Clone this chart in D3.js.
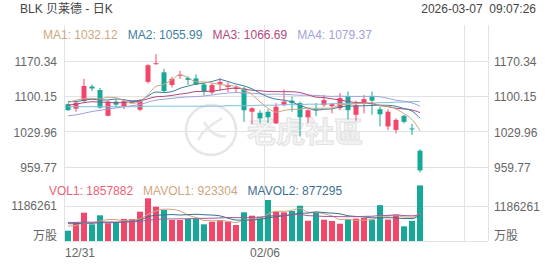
<!DOCTYPE html>
<html><head><meta charset="utf-8">
<script src="https://cdn.jsdelivr.net/npm/d3@7"></script>
<style>
body{margin:0;background:#fff}
svg{display:block;font-family:"Liberation Sans","Noto Sans CJK SC",Arial,sans-serif}
</style>
</head><body><svg id="c" width="552" height="265"></svg>
<script>
// ---------- data ----------
const dates = ["12/31","01/02","01/05","01/06","01/07","01/08","01/09","01/12","01/13","01/14","01/15","01/16","01/20","01/21","01/22","01/23","01/26","01/27","01/28","01/29","01/30","02/02","02/03","02/04","02/05","02/06","02/09","02/10","02/11","02/12","02/13","02/17","02/18","02/19","02/20","02/23","02/24","02/25","02/26","02/27","03/02","03/03","03/04","03/05","03/06"];
const opens  = [1084,1075,1090,1119,1112,1061,1089,1080,1089,1073,1128,1163,1147,1122,1140,1136,1135,1123,1107,1124,1118,1114,1115,1069,1067,1069,1046,1082,1091,1086,1058,1075,1082,1080,1076,1100,1063,1086,1099,1074,1040,1033,1061,1036,992];
const highs  = [1086,1089,1134,1123,1116,1091,1094,1092,1090,1094,1163,1183,1154,1138,1150,1139,1143,1126,1125,1136,1127,1121,1118,1078,1072,1074,1086,1113,1099,1089,1074,1086,1102,1086,1106,1109,1091,1102,1109,1079,1074,1056,1063,1045,995];
const lows   = [1071,1069,1088,1110,1075,1060,1077,1074,1088,1070,1125,1162,1108,1117,1134,1122,1122,1101,1103,1110,1108,1108,1049,1045,1046,1047,1045,1080,1069,1020,1047,1060,1079,1066,1072,1054,1051,1066,1063,1040,1033,1026,1046,1023,949];
const closes = [1072,1087,1120,1115,1077,1089,1083,1090,1089,1091,1161,1165,1110,1134,1142,1132,1123,1109,1122,1128,1122,1117,1072,1076,1056,1058,1079,1089,1086,1058,1072,1073,1092,1084,1096,1072,1082,1094,1091,1064,1069,1053,1049,1034,953];
const volumes = [344000,625000,946000,558000,859000,591000,625000,735000,735000,979000,1427000,1146000,1036000,702000,702000,735000,745000,558000,645000,702000,645000,535000,959000,845000,812000,1370000,979000,959000,1002000,1180000,678000,959000,712000,668000,578000,725000,748000,770000,715000,1198430,715000,880000,490000,673638,1857882];
// closes / volumes of the sessions before the visible window (for the moving averages)
const histCloses = [1030,1022,1015,1008,1012,1020,1018,1025,1021,1019,1045,1062,1078,1090,1098,1105,1075,1062,1060,1075,1085,1092,1098,1090,1090,1063,1105,1111,1084];
const histVolumes = [600000,700000,650000,720000,610000,680000,640000,700000,650000,650000,700000,640000,680000,620000,660000,520000,560000,540000,536000];
// long average line
const longLine = [1079,1079,1079,1079,1079,1079,1079,1079,1079,1079,1080,1080,1080,1080,1080,1080,1080,1080,1080,1080,1081,1081,1081,1081,1082,1082,1082,1083,1083,1083,1084,1084,1084,1085,1085,1085,1086,1086,1086,1087,1087,1088,1088,1089,1089];
const priceTicks = [959.77,1029.96,1100.15,1170.34];
const volTicks = [1186261];
const maPeriods = [5,10,20,30];
const maLabels = ["MA1: 1032.12","MA2: 1055.99","MA3: 1066.69","MA4: 1079.37"];
const volMaPeriods = [5,10,20];
const volLabels = ["VOL1: 1857882","MAVOL1: 923304","MAVOL2: 877295"];
const title = "BLK 贝莱德 - 日K";
const stamp = "2026-03-07  09:07:26";

// ---------- style ----------
const RED="#f2476b", GREEN="#16a898", DOJI="#444";
const maColors=["#cfa681","#3d7fa2","#b4487e","#9fa2de"];
const longColor="#7ec0db";
const volMaColors=["#cfa681","#3d6f90","#a35a9a"];
const grid="#e3e3e3", txt="#666";

const svg=d3.select("#c");
const L=64,R=488,TOP=25,BOT=241;
const slots=53;
const x=d3.scaleBand().domain(d3.range(slots)).range([L,R]);
const cx=i=>x(i)+x.bandwidth()/2;
const yP=d3.scaleLinear().domain([959.77,1170.34]).range([167,60.5]);
const yV=d3.scaleLinear().domain([0,1186261]).range([BOT,205.5]);

// grid
const g=svg.append("g");
priceTicks.forEach(t=>g.append("line").attr("x1",L).attr("x2",R).attr("y1",Math.round(yP(t))+0.5).attr("y2",Math.round(yP(t))+0.5).attr("stroke",grid));
volTicks.forEach(t=>g.append("line").attr("x1",L).attr("x2",R).attr("y1",Math.round(yV(t))+0.5).attr("y2",Math.round(yV(t))+0.5).attr("stroke",grid));
g.append("line").attr("x1",L).attr("x2",R).attr("y1",BOT+0.5).attr("y2",BOT+0.5).attr("stroke",grid);
[0,25,50].forEach(i=>g.append("line").attr("x1",Math.round(x(i))+0.5).attr("x2",Math.round(x(i))+0.5).attr("y1",TOP).attr("y2",BOT).attr("stroke",grid));
g.append("line").attr("x1",R+0.5).attr("x2",R+0.5).attr("y1",TOP).attr("y2",BOT).attr("stroke",grid);

// watermark
const wm=svg.append("g");
wm.append("circle").attr("cx",211).attr("cy",130).attr("r",25).attr("fill","none").attr("stroke","#e6e6e6").attr("stroke-width",2.5);
wm.append("path").attr("d","M198,140 C204,128 214,124 222,118 M204,122 C210,132 218,138 226,136").attr("fill","none").attr("stroke","#e8e8e8").attr("stroke-width",2.5);
wm.append("text").attr("x",247).attr("y",143).attr("font-size",29).attr("font-weight","bold").attr("fill","#f4f4f4").attr("stroke","#e2e2e2").attr("stroke-width",1).attr("font-family","Noto Sans CJK TC").text("老虎社區");

// axes labels
const axL=d3.axisLeft(yP).tickValues(priceTicks).tickSize(0).tickPadding(7).tickFormat(d3.format(".2f"));
const axR=d3.axisRight(yP).tickValues(priceTicks).tickSize(0).tickPadding(6).tickFormat(d3.format(".2f"));
function styleAx(sel){sel.select(".domain").remove();sel.selectAll("text").attr("fill",txt).attr("font-size",12).attr("font-family","Liberation Sans, Arial, sans-serif");}
svg.append("g").attr("transform",`translate(${L},1)`).call(axL).call(styleAx);
svg.append("g").attr("transform",`translate(${R},1)`).call(axR).call(styleAx);
const avL=d3.axisLeft(yV).tickValues(volTicks).tickSize(0).tickPadding(7).tickFormat(d3.format("d"));
const avR=d3.axisRight(yV).tickValues(volTicks).tickSize(0).tickPadding(6).tickFormat(d3.format("d"));
svg.append("g").attr("transform",`translate(${L},0)`).call(avL).call(styleAx);
svg.append("g").attr("transform",`translate(${R},1)`).call(avR).call(styleAx);
svg.append("text").attr("x",L-7).attr("y",240).attr("text-anchor","end").attr("font-size",12).attr("fill",txt).text("万股");
svg.append("text").attr("x",R+6).attr("y",240).attr("font-size",12).attr("fill",txt).text("万股");
// x labels
svg.append("text").attr("x",x(0)+1).attr("y",257).attr("font-size",12).attr("fill",txt).text(dates[0]);
svg.append("text").attr("x",x(25)+1).attr("y",257).attr("text-anchor","middle").attr("font-size",12).attr("fill",txt).text(dates[25]);

// header
svg.append("text").attr("x",20).attr("y",13).attr("font-size",12).attr("fill","#444").text(title);
svg.append("text").attr("x",536).attr("y",13).attr("text-anchor","end").attr("font-size",12).attr("fill","#444").attr("xml:space","preserve").style("white-space","pre").text(stamp);
let lx=43;
maLabels.forEach((t,k)=>{const el=svg.append("text").attr("x",lx).attr("y",39).attr("font-size",12).attr("fill",maColors[k]).text(t);lx+=el.node().getComputedTextLength()+10;});
lx=49;
const vlc=["#ee5f76","#cfa681","#3d6f90"];
volLabels.forEach((t,k)=>{const el=svg.append("text").attr("x",lx).attr("y",195).attr("font-size",12).attr("fill",vlc[k]).text(t);lx+=el.node().getComputedTextLength()+10;});

// moving averages
const allC=histCloses.concat(closes), hc=histCloses.length;
const allV=histVolumes.concat(volumes), hv=histVolumes.length;
function ma(arr,off,p){return closes.map((_,i)=>d3.mean(arr.slice(off+i-p+1,off+i+1)));}
const line=d3.line().x((d,i)=>cx(i)).curve(d3.curveMonotoneX);
// volume bars
svg.append("g").selectAll("rect").data(volumes).join("rect")
  .attr("x",(d,i)=>cx(i)-3).attr("width",6)
  .attr("y",d=>yV(d)).attr("height",d=>BOT-yV(d))
  .attr("fill",(d,i)=>closes[i]>=opens[i]?RED:GREEN);
volMaPeriods.forEach((p,k)=>{
  const vals=ma(allV,hv,p);
  svg.append("path").attr("d",line.y(d=>yV(d))(vals)).attr("fill","none").attr("stroke",volMaColors[k]).attr("stroke-width",1);
});
// candles
const cg=svg.append("g");
const col=i=>closes[i]>opens[i]?RED:(closes[i]<opens[i]?GREEN:DOJI);
cg.selectAll("line").data(closes).join("line")
  .attr("x1",(d,i)=>cx(i)).attr("x2",(d,i)=>cx(i))
  .attr("y1",(d,i)=>yP(highs[i])).attr("y2",(d,i)=>yP(lows[i]))
  .attr("stroke",(d,i)=>col(i)).attr("stroke-width",1);
cg.selectAll("rect").data(closes).join("rect")
  .attr("x",(d,i)=>cx(i)-2.5).attr("width",5)
  .attr("y",(d,i)=>yP(Math.max(opens[i],closes[i])))
  .attr("height",(d,i)=>Math.max(1,Math.abs(yP(opens[i])-yP(closes[i]))))
  .attr("fill",(d,i)=>col(i));
// price MA lines
svg.append("path").attr("d",line.y(d=>yP(d))(longLine)).attr("fill","none").attr("stroke",longColor).attr("stroke-width",1);
maPeriods.slice().reverse().forEach((p,kk)=>{
  const k=maPeriods.length-1-kk;
  const vals=ma(allC,hc,p);
  svg.append("path").attr("d",line.y(d=>yP(d))(vals)).attr("fill","none").attr("stroke",maColors[k]).attr("stroke-width",1);
});
</script>
</body></html>
